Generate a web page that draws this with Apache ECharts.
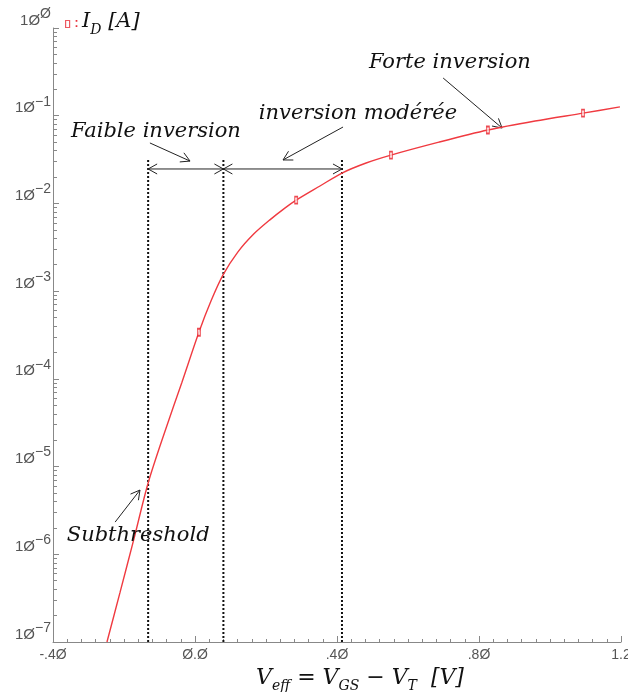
<!DOCTYPE html>
<html><head><meta charset="utf-8">
<script src="https://cdn.jsdelivr.net/npm/echarts@6/dist/echarts.min.js"></script>
<style>html,body{margin:0;padding:0;background:#fff}#c{width:628px;height:692px}</style>
</head><body><div id="c"></div>
<script>
// Curve I_D(V_eff)
const vEff = [-0.248,-0.211,-0.172,-0.132,-0.085,-0.037,0.011,0.045,0.079,0.121,0.166,0.211,0.254,0.285,0.352,0.414,0.482,0.552,0.687,0.825,0.958,1.093,1.197];
const iD   = [1.0e-7,3.7e-7,1.5e-6,6.5e-6,2.5e-5,9.1e-5,3.4e-4,7.7e-4,1.53e-3,2.8e-3,4.5e-3,6.5e-3,8.9e-3,1.09e-2,1.58e-2,2.22e-2,2.89e-2,3.56e-2,5.0e-2,6.87e-2,8.7e-2,0.107,0.126];
// Marked simulation points
const markerV = [0.011,0.285,0.552,0.825,1.093];
const markerI = [3.4e-4,1.09e-2,3.56e-2,6.87e-2,0.107];
// Tick labels
const xTickValues = [-0.4,0,0.4,0.8,1.2];
const xTickLabels = ['-.4Ø','Ø.Ø','.4Ø','.8Ø','1.2'];
const yTickExponents = [-7,-6,-5,-4,-3,-2,-1,0];
const yTickExpLabels = ['−7','−6','−5','−4','−3','−2','−1','Ø'];
// Region boundaries (dotted lines)
const boundV = [-0.132,0.08,0.414];
const boundTopI = 0.0313;
const rangeI = 0.0247;
// Annotation arrows
const arrowFromV = [-0.127,0.417,0.699,-0.225,-0.132,0.08];
const arrowFromI = [0.0489,0.0743,0.269,2.33e-6,rangeI,rangeI];
const arrowToV   = [-0.014,0.248,0.865,-0.155,0.08,0.414];
const arrowToI   = [0.0304,0.0313,0.0724,5.4e-6,rangeI,rangeI];
const arrowHeads = ['end','end','end','end','both','both'];
// Annotation texts
const noteText = ['Faible inversion','inversion modérée','Forte inversion','Subthreshold'];
const noteV = [-0.110,0.459,0.718,-0.160];
const noteI = [0.0652,0.107,0.409,1.65e-6];

const serif = '"DejaVu Serif", "Liberation Serif", serif';
const sans = '"Liberation Sans", Arial, sans-serif';
const chart = echarts.init(document.getElementById('c'));

function headPts(tip, tail){
  const dx = tip[0]-tail[0], dy = tip[1]-tail[1];
  const L = Math.hypot(dx,dy) || 1, ux = dx/L, uy = dy/L, hl = 9, hw = 5;
  return [[tip[0]-hl*ux-hw*uy, tip[1]-hl*uy+hw*ux],[tip[0],tip[1]],[tip[0]-hl*ux+hw*uy, tip[1]-hl*uy-hw*ux]];
}

chart.setOption({
  animation:false,
  backgroundColor:'#fff',
  grid:{left:53,right:7,top:28,bottom:50,containLabel:false,outerBoundsMode:'none'},
  legend:{
    left:60, top:6, itemWidth:4, itemHeight:7, icon:'rect',
    data:[{name:'ID', itemStyle:{color:'#fff', borderColor:'#e8303a', borderWidth:1.2}}],
    formatter:()=> '{c|:} {i|I}{s|D}{i| [A]}',
    textStyle:{rich:{
      c:{color:'#e8303a',fontSize:12,fontFamily:sans,fontWeight:'bold',lineHeight:26,verticalAlign:'middle'},
      i:{color:'#111',fontSize:21,fontStyle:'italic',fontFamily:serif,lineHeight:26,verticalAlign:'top'},
      s:{color:'#111',fontSize:14,fontStyle:'italic',fontFamily:serif,lineHeight:14,verticalAlign:'bottom'}
    }}
  },
  xAxis:{
    type:'value', min:-0.4, max:1.2, interval:0.4,
    axisLine:{onZero:false,lineStyle:{color:'#888',width:1}},
    axisTick:{inside:true,length:6,lineStyle:{color:'#888'}},
    minorTick:{show:true,splitNumber:10,length:3,lineStyle:{color:'#888'}},
    splitLine:{show:false},
    axisLabel:{margin:6,color:'#555',fontSize:14,fontFamily:sans,
      formatter:v=>{const k=xTickValues.findIndex(t=>Math.abs(t-v)<1e-6);return k>=0?xTickLabels[k]:'';}},
    name:'{i|V}{s|eff}{n| = }{i|V}{s|GS}{n| − }{i|V}{s|T}{n|  }{i|[V]}',
    nameLocation:'middle', nameGap:23,
    nameTextStyle:{padding:[0,0,0,46],rich:{
      i:{color:'#111',fontSize:22,fontStyle:'italic',fontFamily:serif,lineHeight:26,verticalAlign:'top'},
      n:{color:'#111',fontSize:22,fontFamily:serif,lineHeight:26,verticalAlign:'top'},
      s:{color:'#111',fontSize:14,fontStyle:'italic',fontFamily:serif,lineHeight:14,verticalAlign:'bottom'}
    }}
  },
  yAxis:{
    type:'log', logBase:10, min:1e-7, max:1,
    axisLine:{show:true,onZero:false,lineStyle:{color:'#888',width:1}},
    axisTick:{show:true,inside:true,length:6,lineStyle:{color:'#888'}},
    minorTick:{show:true,splitNumber:9,length:4,lineStyle:{color:'#888'}},
    splitLine:{show:false},
    axisLabel:{margin:2,verticalAlign:'bottom',
      formatter:v=>{const e=Math.round(Math.log10(v));const k=yTickExponents.indexOf(e);return k>=0?'{b|1Ø}{e|'+yTickExpLabels[k]+'}':'';},
      rich:{
        b:{color:'#555',fontSize:15,fontFamily:sans,lineHeight:21,verticalAlign:'bottom'},
        e:{color:'#555',fontSize:14,fontFamily:sans,lineHeight:13,verticalAlign:'top'}
      }}
  },
  series:[
    {type:'line', name:'curve', data:vEff.map((v,i)=>[v,iD[i]]), showSymbol:false, smooth:0.3,
     lineStyle:{color:'#f03a40',width:1.4}, z:5, silent:true},
    {type:'scatter', name:'ID', data:markerV.map((v,i)=>[v,markerI[i]]), symbol:'rect', symbolSize:[3,7],
     itemStyle:{color:'#fbd0d0',borderColor:'#e8202a',borderWidth:1.2}, z:6, silent:true},
    {type:'custom', name:'bounds', silent:true, z:3,
     data:boundV.map(v=>[v,1e-7,v,boundTopI]), encode:{x:[0,2],y:[1,3]},
     renderItem:(p,api)=>{const a=api.coord([api.value(0),api.value(1)]),b=api.coord([api.value(2),api.value(3)]);
       return {type:'line',shape:{x1:a[0],y1:a[1],x2:b[0],y2:b[1]},style:{stroke:'#111',lineWidth:2,lineDash:[2,2]}};}},
    {type:'custom', name:'arrows', silent:true, z:4,
     data:arrowFromV.map((v,i)=>[v,arrowFromI[i],arrowToV[i],arrowToI[i]]), encode:{x:[0,2],y:[1,3]},
     renderItem:(p,api)=>{const a=api.coord([api.value(0),api.value(1)]),b=api.coord([api.value(2),api.value(3)]);
       const st={stroke:'#222',lineWidth:1,fill:null};
       const ch=[{type:'line',shape:{x1:a[0],y1:a[1],x2:b[0],y2:b[1]},style:st}];
       ch.push({type:'polyline',shape:{points:headPts(b,a)},style:st});
       if(arrowHeads[p.dataIndex]==='both') ch.push({type:'polyline',shape:{points:headPts(a,b)},style:st});
       return {type:'group',children:ch};}},
    {type:'custom', name:'notes', silent:true, z:7,
     data:noteV.map((v,i)=>[v,noteI[i]]), encode:{x:0,y:1},
     renderItem:(p,api)=>{const a=api.coord([api.value(0),api.value(1)]);
       return {type:'text',x:a[0],y:a[1],style:{text:noteText[p.dataIndex],fill:'#111',
         font:'italic 21px '+serif,align:'center',verticalAlign:'middle'}};}}
  ]
});
</script></body></html>
